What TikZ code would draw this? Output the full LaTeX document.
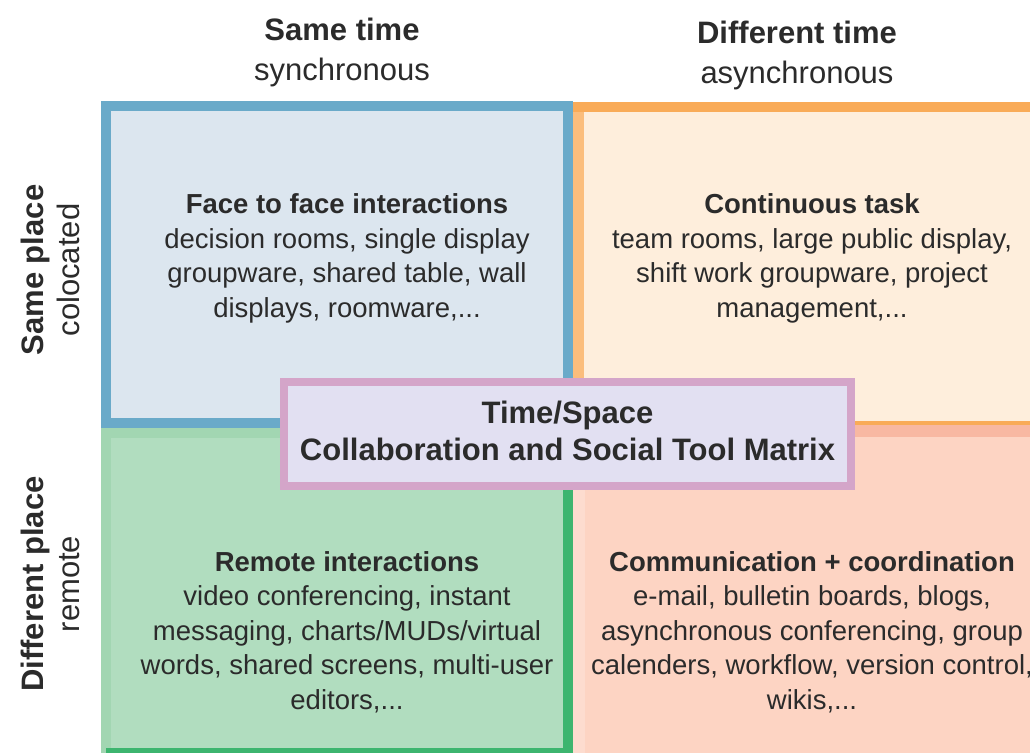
\documentclass[tikz,border=0pt]{standalone}
\usepackage{fontspec}
\setmainfont{Liberation Sans}
\definecolor{txt}{HTML}{2B2B2B}
\definecolor{bluebd}{HTML}{6AAAC9}
\definecolor{bluefill}{HTML}{DCE6EF}
\definecolor{orgbd}{HTML}{F9AB58}
\definecolor{orgleft}{HTML}{FBBD7C}
\definecolor{orgfill}{HTML}{FEEEDC}
\definecolor{grnfill}{HTML}{B1DDBF}
\definecolor{grnlight}{HTML}{A2D6B2}
\definecolor{grndark}{HTML}{3DB56F}
\definecolor{salfill}{HTML}{FDD4C3}
\definecolor{saltop}{HTML}{F8B8A2}
\definecolor{salleft}{HTML}{FDDCCF}
\definecolor{midbd}{HTML}{D4A5C9}
\definecolor{midfill}{HTML}{E2E0F2}
\begin{document}
\begin{tikzpicture}[x=1pt,y=-1pt,
  quad/.style={rectangle, inner sep=0pt, outer sep=0pt},
  body/.style={align=center, text=txt, inner sep=0pt, font=\fontsize{27.5}{34.5}\selectfont},
  head/.style={align=center, text=txt, inner sep=0pt, font=\fontsize{31}{40}\selectfont},
  side/.style={align=center, text=txt, inner sep=0pt, rotate=90, font=\fontsize{31}{36}\selectfont},
  mid/.style={align=center, text=txt, inner sep=0pt, outer sep=0pt, font=\bfseries\fontsize{31}{37}\selectfont},
]
\useasboundingbox (0,0) rectangle (1030,752);
\clip (0,0) rectangle (1030,752);
\fill[white] (0,0) rectangle (1030,752);

% top-left quadrant
\node[quad, draw=bluebd, fill=bluefill, line width=10pt, minimum width=462pt, minimum height=317pt] (tl) at (337,264.5) {};
% top-right quadrant
\node[quad, fill=orgfill, minimum width=472pt, minimum height=323pt] (tr) at (809,263.5) {};
\draw[orgbd, line width=10pt] ([yshift=-5pt]tr.north west) -- ([yshift=-5pt]tr.north east);
\draw[orgleft, line width=11pt] ([xshift=5.5pt,yshift=-10pt]tr.north west) -- ([xshift=5.5pt]tr.south west);
\draw[orgbd, line width=4pt] ([yshift=2pt]tr.south west) -- ([yshift=2pt]tr.south east);
% bottom-left quadrant
\node[quad, draw=grnlight, fill=grnfill, line width=10pt, minimum width=462pt, minimum height=320pt] (bl) at (337,593) {};
\draw[grndark, line width=10pt] (bl.north east) -- (bl.south east) -- (bl.south west);
% bottom-right quadrant
\node[quad, draw=salleft, fill=salfill, line width=12pt, minimum width=466pt, minimum height=329pt] (br) at (812,595.5) {};
\draw[saltop, line width=12pt] (br.north west) -- (br.north east);

% centre box
\node[quad, draw=midbd, fill=midfill, line width=8pt, minimum width=567pt, minimum height=104pt] (midbox) at (567.5,434) {};
\node[mid] (midtext) at (567.5,430.5) {Time/Space\\Collaboration and Social Tool Matrix};

% headers
\node[head] (sync) at (342,52.5) {\textbf{Same time}\\synchronous};
\node[head] (async) at (797,55) {\textbf{Different time}\\asynchronous};
\node[side] (same) at (50,270) {\textbf{Same place}\\colocated};
\node[side] (diff) at (50,584) {\textbf{Different place}\\remote};

% quadrant texts
\node[body] (tltext) at (347,258.5) {\textbf{Face to face interactions}\\decision rooms, single display\\groupware, shared table, wall\\displays, roomware,...};
\node[body] (trtext) at (812,258.5) {\textbf{Continuous task}\\team rooms, large public display,\\shift work groupware, project\\management,...};
\node[body] (bltext) at (347,632) {\textbf{Remote interactions}\\video conferencing, instant\\messaging, charts/MUDs/virtual\\words, shared screens, multi-user\\editors,...};
\node[body] (brtext) at (812,632) {\textbf{Communication + coordination}\\e-mail, bulletin boards, blogs,\\asynchronous conferencing, group\\calenders, workflow, version control,\\wikis,...};
\end{tikzpicture}
\end{document}
